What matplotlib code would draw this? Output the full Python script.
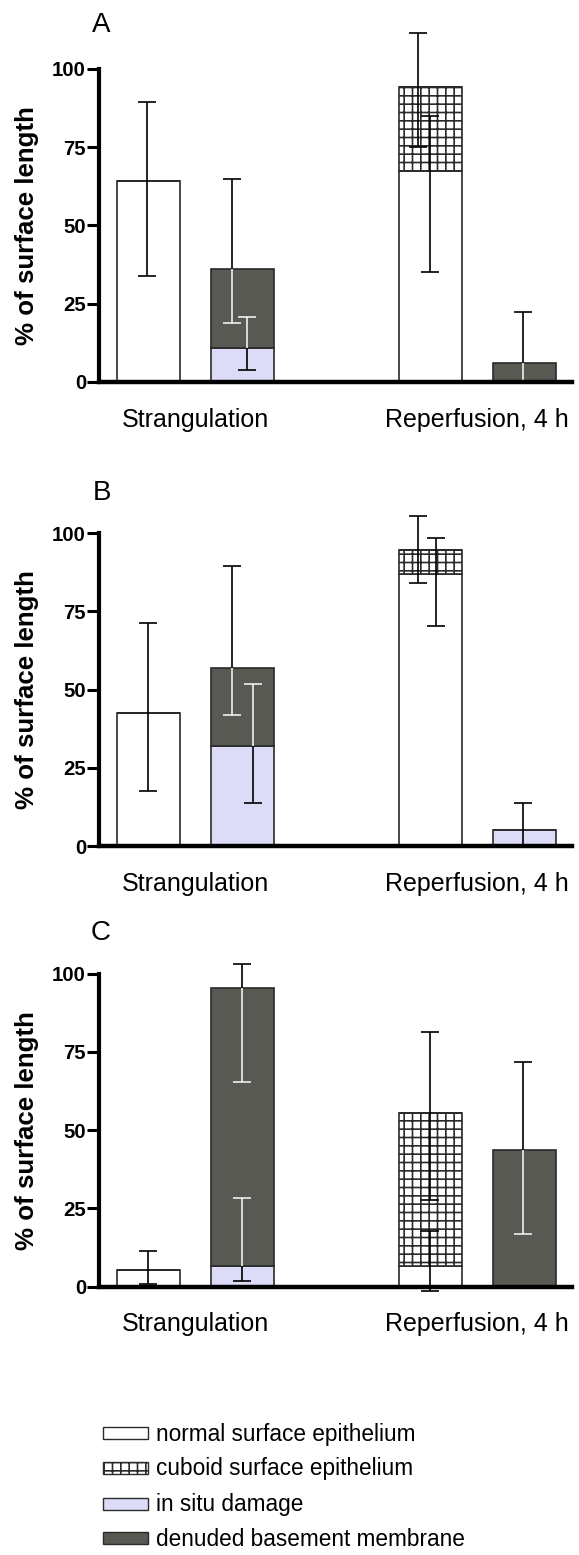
import numpy as np
import matplotlib
matplotlib.use("Agg")
import matplotlib.pyplot as plt
from matplotlib import font_manager
from matplotlib.patches import Rectangle
from matplotlib.transforms import blended_transform_factory

plt.rcParams['font.family'] = ['Liberation Sans', 'DejaVu Sans']
plt.rcParams['hatch.linewidth'] = 1.2

groups = ['Strangulation', 'Reperfusion, 4 h']
segments = ['normal surface epithelium', 'cuboid surface epithelium',
            'in situ damage', 'denuded basement membrane']
panels = ['A', 'B', 'C']
bar_pos = [0, 1, 3, 4]
nan = np.nan

# rows: normal, cuboid, in situ, denuded ; columns: the four bars
a_vals = [[64.3, 0, 67.5, 0], [0, 0, 26.7, 0], [0, 10.7, 0, 0], [0, 25.3, 0, 6.1]]
a_err_lo = [[30.5, nan, 32.3, nan], [nan, nan, 19.3, nan], [nan, 7.0, nan, nan], [nan, 17.1, nan, 6.4]]
a_err_hi = [[25.1, nan, 17.6, nan], [nan, nan, 17.3, nan], [nan, 10.1, nan, nan], [nan, 28.9, nan, 16.1]]

b_vals = [[42.5, 0, 87.0, 0], [0, 0, 7.6, 0], [0, 32.0, 0, 5.1], [0, 25.0, 0, 0]]
b_err_lo = [[24.8, nan, 16.8, nan], [nan, nan, 10.6, nan], [nan, 18.2, nan, 5.5], [nan, 15.2, nan, nan]]
b_err_hi = [[28.9, nan, 11.4, nan], [nan, nan, 10.9, nan], [nan, 19.9, nan, 8.7], [nan, 32.4, nan, nan]]

c_vals = [[5.3, 0, 6.5, 0], [0, 0, 49.1, 0], [0, 6.4, 0, 0], [0, 89.0, 0, 43.5]]
c_err_lo = [[4.4, nan, 7.8, nan], [nan, nan, 27.9, nan], [nan, 4.5, nan, nan], [nan, 30.1, nan, 26.6]]
c_err_hi = [[6.0, nan, 11.2, nan], [nan, nan, 25.7, nan], [nan, 21.8, nan, nan], [nan, 7.6, nan, 28.2]]

# layout / style
W, H = 579, 1555
px_unit = 94.0          # pixels per x unit
k = 3.128               # pixels per y unit
zero_px = [381.7, 846.0, 1286.5]
letter_px = [(101, 25), (102, 493), (101, 933)]
# small horizontal offsets of error bars (px), as in the original
a_shift = [[-1, 0, 0, 0], [0, 0, -12, 0], [0, 5, 0, 0], [0, -10, 0, -1.5]]
b_shift = [[0, 0, 5.5, 0], [0, 0, -12, 0], [0, 10.5, 0, -1.5], [0, -10, 0, 0]]
c_shift = [[0, 0, 0, 0], [0, 0, 0, 0], [0, 0, 0, 0], [0, 0, 0, -1.5]]

fills = ['white', 'white', '#dcdcf8', '#585953']
hatches = [None, '++', None, None]
edge = '#2a2a2a'

# legend text in the original is a tall, narrow face
try:
    font_manager.findfont('Liberation Sans Narrow', fallback_to_default=False)
    leg_font, leg_size = ['Liberation Sans Narrow', 'Liberation Sans'], 19.3
except ValueError:
    leg_font, leg_size = ['Liberation Sans', 'DejaVu Sans'], 16.3


def draw_panel(ax, vals, lo, hi, shift):
    bottom = np.zeros(4)
    tops = []
    dark = None
    for s in range(4):
        v = np.array(vals[s], float)
        bc = ax.bar(bar_pos, v, width=0.67, bottom=bottom, color=fills[s],
                    edgecolor=edge, linewidth=1.2, hatch=hatches[s], zorder=2)
        bottom = bottom + v
        tops.append(bottom.copy())
        if s == 3:
            dark = bc.patches
    for s in range(4):
        for i in range(4):
            if np.isnan(lo[s][i]):
                continue
            x = bar_pos[i] + shift[s][i] / px_unit
            y = tops[s][i]
            for col, z in (('black', 3), ('white', 4)):
                eb = ax.errorbar(x, y, yerr=[[lo[s][i]], [hi[s][i]]], fmt='none',
                                 ecolor=col, elinewidth=1.2, capsize=6.8,
                                 capthick=1.2, zorder=z)
                if col == 'white':
                    for art in list(eb.lines[1]) + list(eb.lines[2]):
                        art.set_clip_path(dark[i])


fig = plt.figure(figsize=(W / 100, H / 100), dpi=100)
data = [(a_vals, a_err_lo, a_err_hi, a_shift),
        (b_vals, b_err_lo, b_err_hi, b_shift),
        (c_vals, c_err_lo, c_err_hi, c_shift)]

for p in range(3):
    y0 = zero_px[p]
    bottom_px = y0 + 4 * k
    ax = fig.add_axes([99.3 / W, 1 - bottom_px / H, (572 - 99.3) / W, 120 * k / H])
    draw_panel(ax, *data[p])
    ax.set_xlim(-0.52, 4.51)
    ax.set_ylim(-4, 116)
    ax.spines['top'].set_visible(False)
    ax.spines['right'].set_visible(False)
    ax.spines['left'].set_bounds(0, 100)
    ax.spines['bottom'].set_position(('data', 0))
    ax.spines['left'].set_linewidth(3)
    ax.spines['bottom'].set_linewidth(3.2)
    ax.spines['left'].set_zorder(5)
    ax.spines['bottom'].set_zorder(5)
    ax.set_xticks([])
    ax.set_yticks([0, 25, 50, 75, 100])
    ax.tick_params(axis='y', length=8.5, width=2.2, labelsize=14.7, pad=1)
    for lab in ax.get_yticklabels():
        lab.set_fontweight('bold')
    ax.set_ylabel('% of surface length', fontsize=18.6, fontweight='bold')
    ax.yaxis.set_label_coords(27 / W, 50,
                              transform=blended_transform_factory(fig.transFigure, ax.transData))
    ax.yaxis.label.set_va('center')
    for g, gx in zip(groups, [0.5, 3.5]):
        ax.text(gx, -38 / k, g, ha='center', va='center', fontsize=18)
    fig.text(letter_px[p][0] / W, 1 - letter_px[p][1] / H, panels[p],
             ha='center', va='center', fontsize=20)

# legend
lax = fig.add_axes([0, 0, 1, 1])
lax.set_xlim(0, W)
lax.set_ylim(H, 0)
lax.axis('off')
leg_y = [1432.5, 1467.5, 1503.5, 1537.5]
for s in range(4):
    lax.add_patch(Rectangle((102.7, leg_y[s] - 6), 45.6, 12, facecolor=fills[s],
                            edgecolor=edge, linewidth=1.0, hatch=hatches[s]))
    lax.text(156, leg_y[s] + 1.5, segments[s], ha='left', va='center',
             fontsize=leg_size, family=leg_font)

fig.savefig('out.png', dpi=100)
